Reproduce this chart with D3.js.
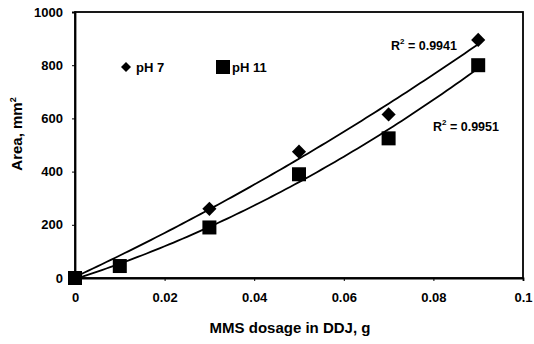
<!DOCTYPE html>
<html><head><meta charset="utf-8">
<script src="https://cdn.jsdelivr.net/npm/d3@7"></script>
<style>body{margin:0;background:#fff}svg{display:block}text{font-family:"Liberation Sans",Arial,sans-serif;font-weight:bold;fill:#000}</style>
</head><body><svg id="c" width="534" height="344"></svg>
<script>
const ph7X = [0, 0.03, 0.05, 0.07, 0.09];
const ph7Y = [0, 260, 475, 615, 895];
const ph11X = [0, 0.01, 0.03, 0.05, 0.07, 0.09];
const ph11Y = [0, 45, 190, 390, 525, 800];
const xTicks = [0, 0.02, 0.04, 0.06, 0.08, 0.1];
const yTicks = [0, 200, 400, 600, 800, 1000];
const r2Labels = ["0.9941", "0.9951"];

const svg = d3.select("#c");
const L = 75, R = 523, T = 12, B = 278;
const x = d3.scaleLinear().domain([0, 0.1]).range([L, R]);
const y = d3.scaleLinear().domain([0, 1000]).range([B, T]);

svg.append("rect").attr("x", L).attr("y", T).attr("width", R - L).attr("height", B - T)
  .attr("fill", "none").attr("stroke", "#000").attr("stroke-width", 1.8);

const xa = svg.append("g").attr("transform", `translate(0,${B})`)
  .call(d3.axisBottom(x).tickValues(xTicks).tickSize(3).tickPadding(12)
    .tickFormat(d => d === 0 ? "0" : (d === 0.1 ? "0.1" : d3.format(".2f")(d))));
const ya = svg.append("g").attr("transform", `translate(${L},0)`)
  .call(d3.axisLeft(y).tickValues(yTicks).tickSize(3).tickPadding(9).tickFormat(d3.format("d")));
[xa, ya].forEach(a => {
  a.select(".domain").attr("stroke-width", 1.8);
  a.selectAll("text").attr("font-size", 13).style("font-family", '"Liberation Sans",Arial,sans-serif').style("font-weight", "bold");
});

function quadFit(xs, ys) {
  const n = xs.length;
  let S = [0,0,0,0,0], Sy = [0,0,0];
  for (let i = 0; i < n; i++) {
    for (let k = 0; k < 5; k++) S[k] += Math.pow(xs[i], k);
    for (let k = 0; k < 3; k++) Sy[k] += ys[i] * Math.pow(xs[i], k);
  }
  const A = [[S[0],S[1],S[2],Sy[0]],[S[1],S[2],S[3],Sy[1]],[S[2],S[3],S[4],Sy[2]]];
  for (let i = 0; i < 3; i++) {
    for (let j = i + 1; j < 3; j++) {
      const f = A[j][i] / A[i][i];
      for (let k = i; k < 4; k++) A[j][k] -= f * A[i][k];
    }
  }
  const c = [0,0,0];
  for (let i = 2; i >= 0; i--) {
    let s = A[i][3];
    for (let k = i + 1; k < 3; k++) s -= A[i][k] * c[k];
    c[i] = s / A[i][i];
  }
  return v => c[0] + c[1] * v + c[2] * v * v;
}
const line = d3.line().x(d => x(d[0])).y(d => y(d[1]));
[[ph7X, ph7Y], [ph11X, ph11Y]].forEach(([xs, ys]) => {
  const f = quadFit(xs, ys);
  const pts = d3.range(0, 0.0901, 0.001).map(v => [v, f(v)]);
  svg.append("path").attr("d", line(pts)).attr("fill", "none").attr("stroke", "#000").attr("stroke-width", 1.8);
});

svg.append("g").selectAll("path").data(ph7X.map((v, i) => [v, ph7Y[i]])).join("path")
  .attr("d", d3.symbol().type(d3.symbolSquare).size(100))
  .attr("transform", d => `translate(${x(d[0])},${y(d[1])}) rotate(45)`).attr("fill", "#000");
svg.append("g").selectAll("rect").data(ph11X.map((v, i) => [v, ph11Y[i]])).join("rect")
  .attr("x", d => x(d[0]) - 7).attr("y", d => y(d[1]) - 7).attr("width", 14).attr("height", 14).attr("fill", "#000");

// legend
svg.append("path").attr("d", d3.symbol().type(d3.symbolSquare).size(50)())
  .attr("transform", `translate(126,67) rotate(45)`).attr("fill", "#000");
svg.append("text").attr("x", 136).attr("y", 72).attr("font-size", 13).text("pH 7");
svg.append("rect").attr("x", 216).attr("y", 60).attr("width", 14).attr("height", 14).attr("fill", "#000");
svg.append("text").attr("x", 232).attr("y", 72).attr("font-size", 13).text("pH 11");

function r2(xp, yp, val) {
  const t = svg.append("text").attr("x", xp).attr("y", yp).attr("font-size", 12.5);
  t.append("tspan").text("R");
  t.append("tspan").attr("dy", -6).attr("font-size", 8).text("2");
  t.append("tspan").attr("dy", 6).text(" = " + val);
}
r2(391, 50, r2Labels[0]);
r2(433, 131, r2Labels[1]);

svg.append("text").attr("x", 290).attr("y", 333).attr("text-anchor", "middle").attr("font-size", 15).text("MMS dosage in DDJ, g");
const yt = svg.append("text").attr("transform", "translate(22,134) rotate(-90)").attr("text-anchor", "middle").attr("font-size", 15);
yt.append("tspan").text("Area, mm");
yt.append("tspan").attr("dy", -6).attr("font-size", 9).text("2");
</script></body></html>
